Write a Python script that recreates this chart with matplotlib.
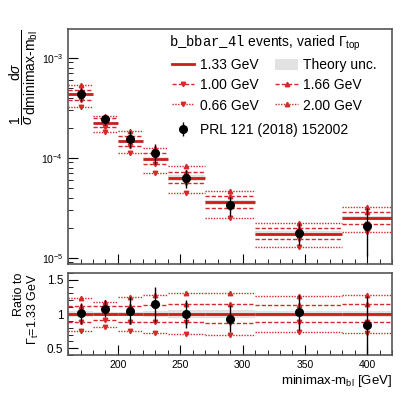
import matplotlib
matplotlib.use('Agg')
import matplotlib.pyplot as plt
import numpy as np
from matplotlib.lines import Line2D
from matplotlib.patches import Patch
from matplotlib.ticker import MultipleLocator, LogLocator, NullFormatter

plt.rcParams['font.family'] = ['Liberation Sans', 'DejaVu Sans']
plt.rcParams['mathtext.fontset'] = 'custom'
plt.rcParams['mathtext.rm'] = 'Liberation Sans'
plt.rcParams['mathtext.it'] = 'Liberation Sans:italic'
plt.rcParams['mathtext.tt'] = 'Liberation Mono'

# binning (minimax-m_bl, GeV)
bin_edges = [160, 180, 200, 220, 240, 270, 310, 380, 420]
bin_centers = [170, 190, 210, 230, 255, 290, 345, 400]

# nominal prediction Gamma_top = 1.33 GeV
nominal = [4.3e-4, 2.24e-4, 1.48e-4, 9.8e-5, 6.3e-5, 3.6e-5, 1.75e-5, 2.5e-5]
theory_unc = [0.04, 0.03, 0.03, 0.05, 0.06, 0.06, 0.05, 0.05]  # relative

# variations, as ratio to nominal
ratio_100 = [0.89, 0.91, 0.88, 0.88, 0.88, 0.87, 0.88, 0.88]
ratio_166 = [1.11, 1.12, 1.11, 1.13, 1.14, 1.14, 1.13, 1.14]
ratio_066 = [0.75, 0.81, 0.75, 0.72, 0.71, 0.69, 0.735, 0.72]
ratio_200 = [1.24, 1.18, 1.25, 1.28, 1.30, 1.30, 1.27, 1.28]

# data PRL 121 (2018) 152002
data = [4.34e-4, 2.42e-4, 1.55e-4, 1.12e-4, 6.3e-5, 3.35e-5, 1.79e-5, 2.1e-5]
data_err = [6.5e-5, 2.7e-5, 2.9e-5, 2.5e-5, 1.26e-5, 0.72e-5, 0.44e-5, 1.05e-5]

edges = np.array(bin_edges)
lo, hi = edges[:-1], edges[1:]
widths = hi - lo
nom = np.array(nominal)
unc = np.array(theory_unc)

red = '#c81e1e'
varred = '#d42a2a'
grey = '#e2e2e2'
frame = '#555555'

fig = plt.figure(figsize=(4.15, 3.95), dpi=100)
ax = fig.add_axes([0.164, 0.332, 0.781, 0.595])
rax = fig.add_axes([0.164, 0.101, 0.781, 0.208])

variations = [
    (ratio_100, (0, (3, 1.5)), 'v', '1.00 GeV'),
    (ratio_066, (0, (1, 1)), 'v', '0.66 GeV'),
    (ratio_166, (0, (3, 1.5)), '^', '1.66 GeV'),
    (ratio_200, (0, (1, 1)), '^', '2.00 GeV'),
]

for a, scale in [(ax, nom), (rax, np.ones_like(nom))]:
    a.bar(bin_centers, 2 * unc * scale, bottom=scale * (1 - unc), width=widths,
          color=grey, linewidth=0, zorder=1)
    a.hlines(scale, lo, hi, color=red, lw=2.0, zorder=3)
    for r, ls, mk, lab in variations:
        vals = np.array(r) * scale
        a.hlines(vals, lo, hi, color=varred, lw=1.0, linestyles=[ls], zorder=2)
        a.plot(bin_centers, vals, ls='none', marker=mk, ms=3.2, color=varred, zorder=2)

dat = ax.errorbar(bin_centers, data, yerr=data_err, fmt='o', color='black',
                  ms=5.5, elinewidth=1.0, capsize=0, zorder=5)
rax.errorbar(bin_centers, np.array(data) / nom, yerr=np.array(data_err) / nom,
             fmt='o', color='black', ms=5.5, elinewidth=1.0, capsize=0, zorder=5)

ax.set_yscale('log')
ax.set_ylim(8.7e-6, 1.95e-3)
ax.set_xlim(160, 420)
rax.set_xlim(160, 420)
rax.set_ylim(0.4, 1.6)

for a in (ax, rax):
    a.tick_params(which='both', direction='in', top=False, right=False,
                  labelsize=7.5, colors='black')
    a.tick_params(which='major', length=7)
    a.tick_params(which='minor', length=3.5)
    a.xaxis.set_major_locator(MultipleLocator(50))
    a.xaxis.set_minor_locator(MultipleLocator(10))
    for s in a.spines.values():
        s.set_color(frame)
        s.set_linewidth(1.2)
ax.set_xticklabels([])
ax.yaxis.set_major_locator(LogLocator(base=10))
ax.yaxis.set_minor_locator(LogLocator(base=10, subs=np.arange(2, 10)))
ax.yaxis.set_minor_formatter(NullFormatter())
rax.yaxis.set_minor_locator(MultipleLocator(0.1))
rax.set_yticks([0.5, 1, 1.5])
rax.set_yticklabels(['0.5', '1', '1.5'])
rax.tick_params(axis='y', labelsize=8.5)

ax.set_ylabel(r'$\dfrac{1}{\sigma}\dfrac{\mathrm{d}\sigma}{\mathrm{dminimax\text{-}m_{bl}}}$',
              fontsize=10, loc='top', labelpad=1)
rax.set_ylabel('Ratio to\n' + r'$\mathit{\Gamma}_{\mathrm{t}}$=1.33 GeV', fontsize=9,
               linespacing=1.05, loc='top')
rax.set_xlabel(r'minimax-m$_{\mathrm{bl}}$ [GeV]', fontsize=9.5, loc='right', labelpad=2)

# legend
ax.text(0.31, 0.94, r'$\mathtt{b\_bbar\_4l}$ events, varied $\Gamma_{\mathrm{top}}$',
        transform=ax.transAxes, fontsize=10, va='center', ha='left')
h_nom = Line2D([], [], color=red, lw=2.0)
h_unc = Patch(facecolor=grey, edgecolor='none')
h = {}
for r, ls, mk, lab in variations:
    h[lab] = Line2D([], [], color=varred, lw=1.0, ls=ls, marker=mk, ms=3.2)
leg = ax.legend([h_nom, h['1.00 GeV'], h['0.66 GeV'], h_unc, h['1.66 GeV'], h['2.00 GeV']],
                ['1.33 GeV', '1.00 GeV', '0.66 GeV', 'Theory unc.', '1.66 GeV', '2.00 GeV'],
                ncol=2, loc='upper left', bbox_to_anchor=(0.3, 0.905), frameon=False,
                fontsize=10, handlelength=1.6, handleheight=0.9, handletextpad=0.4,
                columnspacing=1.2, labelspacing=0.45, borderpad=0, numpoints=1)
ax.add_artist(leg)
ax.legend([dat], ['PRL 121 (2018) 152002'], loc='upper left', bbox_to_anchor=(0.3, 0.63),
          frameon=False, fontsize=10, handlelength=1.6, handletextpad=0.4, borderpad=0)

plt.savefig('out.png', dpi=100)
